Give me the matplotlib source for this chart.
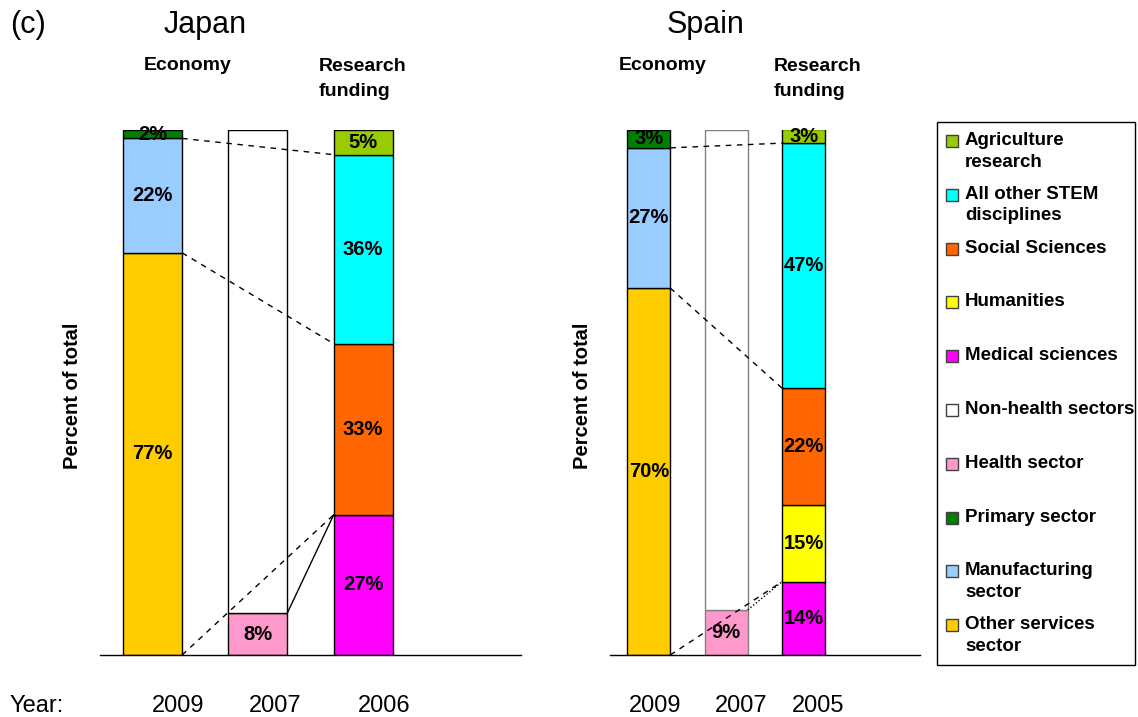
import matplotlib.pyplot as plt
from matplotlib.patches import Rectangle
import numpy as np

plt.rcParams['font.family'] = ['Liberation Sans', 'DejaVu Sans']

# legend, top to bottom
legend_names = ["Agriculture research", "All other STEM disciplines", "Social Sciences",
                "Humanities", "Medical sciences", "Non-health sectors", "Health sector",
                "Primary sector", "Manufacturing sector", "Other services sector"]
legend_text = ["Agriculture\nresearch", "All other STEM\ndisciplines", "Social Sciences",
               "Humanities", "Medical sciences", "Non-health sectors", "Health sector",
               "Primary sector", "Manufacturing\nsector", "Other services\nsector"]
legend_colors = ["#99CC00", "#00FFFF", "#FF6600", "#FFFF00", "#FF00FF", "#FFFFFF",
                 "#FF99CC", "#007F00", "#99CCFF", "#FFCC00"]
colors = dict(zip(legend_names, legend_colors))

econ_sectors = ["Other services sector", "Manufacturing sector", "Primary sector"]
health_sectors = ["Health sector", "Non-health sectors"]

# Japan
japan_years = ["2009", "2007", "2006"]
japan_econ = [76.6, 21.8, 1.6]
japan_health = [8.0, 92.0]
japan_fields = ["Medical sciences", "Social Sciences", "All other STEM disciplines",
                "Agriculture research"]
japan_field_share = [26.7, 32.6, 36.0, 4.7]

# Spain
spain_years = ["2009", "2007", "2005"]
spain_econ = [69.9, 26.7, 3.4]
spain_health = [8.6, 91.4]
spain_fields = ["Medical sciences", "Humanities", "Social Sciences",
                "All other STEM disciplines", "Agriculture research"]
spain_field_share = [14.0, 14.6, 22.2, 46.7, 2.6]

W, H = 1138, 717
fig = plt.figure(figsize=(W / 100, H / 100), dpi=100)


def fx(x):
    return x / W


def fy(y):
    return 1 - y / H


def stack(ax, x, names, vals, width, edge='black'):
    bottom = 0
    for name, v in zip(names, vals):
        ax.bar(x, v, width, bottom=bottom, color=colors[name], edgecolor=edge,
               linewidth=1, zorder=2)
        if name != "Non-health sectors":
            ax.text(x, bottom + v / 2, f"{v:.0f}%", ha='center', va='center',
                    fontsize=14.5, fontweight='bold', zorder=4)
        bottom += v


def panel(rect, econ, health, fields, field_share, width, mid_edge, link_style):
    ax = fig.add_axes(rect)
    stack(ax, 0, econ_sectors, econ, width)
    stack(ax, 1, health_sectors, health, width, edge=mid_edge)
    stack(ax, 2, fields, field_share, width)
    ax.set_xlim(-0.5, 3.5)
    ax.set_ylim(0, 100)
    ax.set_xticks([])
    ax.set_yticks([])
    for s in ['left', 'top', 'right']:
        ax.spines[s].set_visible(False)
    ax.spines['bottom'].set_linewidth(1)

    # lines linking the economy shares to the research funding shares
    e = np.cumsum(econ)
    f = np.cumsum(field_share)
    x0, x1 = width / 2, 2 - width / 2
    kw = dict(color='black', lw=1, zorder=3, clip_on=False)
    ax.plot([x0, x1], [e[1], f[-2]], ls=(0, (4, 4)), **kw)
    ax.plot([x0, x1], [e[0], f[-3]], ls=(0, (4, 4)), **kw)
    ax.plot([x0, x1], [0, f[0]], ls=(0, (4, 4)), **kw)
    ax.plot([1 + width / 2, x1], [health[0], f[0]], ls=link_style, **kw)
    return ax


panel([fx(100), 62 / H, 421 / W, 525 / H], japan_econ, japan_health,
      japan_fields, japan_field_share, 0.56, 'black', '-')
panel([fx(610), 62 / H, 310 / W, 525 / H], spain_econ, spain_health,
      spain_fields, spain_field_share, 0.555, '#808080', (0, (1, 1.5)))

# titles and headers
fig.text(fx(10), fy(25), "(c)", fontsize=22, va='center', ha='left')
fig.text(fx(205), fy(25), "Japan", fontsize=22, va='center', ha='center')
fig.text(fx(706), fy(25), "Spain", fontsize=22, va='center', ha='center')
for x_econ, x_res in [(144, 319), (619, 774)]:
    fig.text(fx(x_econ), fy(65), "Economy", fontsize=14, fontweight='bold',
             ha='left', va='center')
    fig.text(fx(x_res), fy(79), "Research\nfunding", fontsize=14, fontweight='bold',
             ha='left', va='center', linespacing=1.6)
for x in [72, 582]:
    fig.text(fx(x), fy(396), "Percent of total", fontsize=14.5, fontweight='bold',
             rotation=90, ha='center', va='center')

# year row
fig.text(fx(9), fy(706), "Year:", fontsize=17, ha='left', va='center')
for label, x in zip(japan_years + spain_years, [178, 275, 384, 655, 741, 818]):
    fig.text(fx(x), fy(706), label, fontsize=17, ha='center', va='center')

# legend box
fig.add_artist(Rectangle((fx(937), fy(665)), 198 / W, 543 / H, transform=fig.transFigure,
                         fill=False, edgecolor='black', lw=1))
for i, (txt, c) in enumerate(zip(legend_text, legend_colors)):
    y = 141 + i * 53.8
    fig.add_artist(Rectangle((fx(946), fy(y + 6)), 12 / W, 12 / H, transform=fig.transFigure,
                             facecolor=c, edgecolor='#404040', lw=1))
    fig.text(fx(965), fy(y - 9), txt, fontsize=13.5, fontweight='bold',
             ha='left', va='top', linespacing=1.35)

fig.savefig("out.png", dpi=100)
